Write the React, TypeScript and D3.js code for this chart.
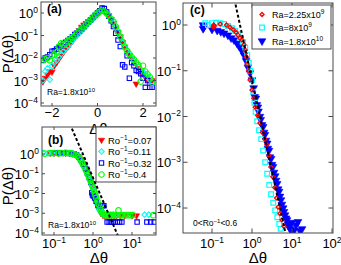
import React from 'react';
import * as d3 from 'd3';

// ---------- DATA ----------
// Panel (a): PDF of Δθ, Ra = 1.8x10^10, four rotation rates
const aDeltaTheta = [-2.4,-2.3,-2.2,-2.1,-2.0,-1.9,-1.8,-1.7,-1.6,-1.5,-1.4,-1.3,-1.2,-1.1,-1.0,-0.9,-0.8,-0.7,-0.6,-0.5,-0.4,-0.3,-0.2,-0.1,0,0.1,0.2,0.3,0.4,0.5,0.6,0.7,0.8,0.9,1.0,1.1,1.2,1.3,1.4,1.5,1.6,1.7,1.8,1.9,2.0,2.1,2.2,2.3,2.4];
const aRo007 = [8.9e-4,1.3e-3,1.8e-3,2.5e-3,2.4e-3,4.5e-3,6.3e-3,8.9e-3,0.0126,0.018,0.024,0.032,0.042,0.056,0.089,0.126,0.17,0.24,0.30,0.35,0.42,0.5,0.63,0.76,0.93,1.2,1.3,1.2,0.95,0.76,0.54,0.35,0.22,0.14,0.089,0.05,0.030,0.019,0.013,9.5e-3,6.3e-3,7.1e-4,3.5e-3,2.5e-3,2.0e-3,1.4e-3,1.0e-3,1.1e-3,1.0e-3];
const aRo011 = [1.0e-3,2.5e-3,3.5e-3,1.1e-3,4.5e-3,6.3e-3,7.9e-3,0.011,0.015,0.020,0.026,0.035,0.045,0.060,0.079,0.10,0.126,0.16,0.21,0.26,0.34,0.43,0.55,0.71,0.89,1.12,1.3,1.2,0.93,0.72,0.52,0.35,0.22,0.13,0.079,0.048,0.028,0.019,0.014,0.010,7.6e-3,5.6e-3,4.2e-3,3.2e-3,2.4e-3,1.8e-3,1.4e-3,1.1e-3,8.9e-4];
const aRo032 = [7.9e-3,0.010,0.011,0.014,0.020,0.021,0.025,0.030,0.035,0.042,0.050,0.060,0.072,0.089,0.11,0.13,0.16,0.20,0.25,0.32,0.40,0.50,0.63,0.79,1.0,1.26,1.66,1.58,1.12,0.71,0.45,0.25,0.126,0.063,0.032,5.0e-3,4.0e-3,0.0126,1.26e-3,6.3e-3,4.5e-3,2.8e-3,2.5e-3,2.0e-3,1.26e-3,5.0e-4,1.0e-3,5.0e-4,5.0e-4];
const aRo04 = [7.9e-3,8.9e-3,0.010,7.9e-3,0.0126,0.014,0.018,0.032,0.045,0.040,0.045,0.056,0.068,0.083,0.10,0.126,0.16,0.20,0.25,0.32,0.40,0.50,0.63,0.79,0.95,1.17,1.26,1.17,0.95,0.76,0.52,0.42,0.25,0.15,0.089,0.052,0.032,0.021,0.015,0.011,8.5e-3,6.3e-3,4.8e-3,8.9e-4,4.5e-3,2.5e-3,1.9e-3,1.4e-3,7.9e-4];

// Panel (b): [Δθ, P] pairs on log-log axes
const bRo007: [number, number][] = [[0.08,1.1],[0.1,1.12],[0.13,1.1],[0.17,1.15],[0.2,1.1],[0.25,1.08],[0.3,1.02],[0.35,0.92],[0.4,0.76],[0.45,0.58],[0.5,0.42],[0.55,0.3],[0.6,0.21],[0.65,0.15],[0.7,0.11],[0.75,0.08],[0.8,0.057],[0.85,0.042],[0.9,0.031],[0.95,0.024],[1.0,0.018],[1.1,7e-3],[1.2,4e-3],[1.3,2.5e-3],[1.4,1.7e-3],[1.5,1.3e-3],[1.6,1.0e-3],[1.8,8e-4],[2.0,7.6e-4],[2.3,7.6e-4],[2.6,7.6e-4],[3.0,7.6e-4],[3.5,7.6e-4],[4.0,7.6e-4],[5.0,7.6e-4],[6.5,7.6e-4],[10,7.6e-4],[13,7.6e-4]];
const bRo011: [number, number][] = [[0.052,1.15],[0.07,1.1],[0.09,1.12],[0.12,1.15],[0.15,1.1],[0.19,1.15],[0.22,1.1],[0.26,1.07],[0.3,1.02],[0.34,0.95],[0.38,0.82],[0.42,0.68],[0.46,0.53],[0.5,0.41],[0.55,0.3],[0.6,0.22],[0.65,0.16],[0.7,0.115],[0.75,0.085],[0.8,0.062],[0.85,0.045],[0.9,0.034],[0.95,0.025],[1.0,0.019],[1.05,0.013],[1.1,8.5e-3],[1.2,4.8e-3],[1.3,2.9e-3],[1.4,1.9e-3],[1.5,1.4e-3],[1.7,1.0e-3],[1.9,8.5e-4],[2.1,8.5e-4],[2.4,8.5e-4],[2.8,8.5e-4],[3.3,8.5e-4],[4,8.5e-4],[21,8.5e-4],[27,8.5e-4]];
const bRo032: [number, number][] = [[0.1,1.12],[0.14,1.15],[0.18,1.1],[0.23,1.1],[0.28,1.07],[0.33,1.0],[0.38,0.88],[0.43,0.7],[0.5,0.48],[0.57,0.3],[0.65,0.18],[0.72,0.11],[0.8,0.065],[0.88,0.036],[0.93,0.011],[0.97,8.5e-3],[1.02,7.5e-3],[1.1,6e-3],[1.2,4e-3],[1.35,2.5e-3],[1.5,2.5e-3],[1.7,2.4e-3],[1.9,2.4e-3],[2.3,3.6e-4],[2.6,3.6e-4],[2.9,3.6e-4],[3.3,3.6e-4],[3.7,3.6e-4],[4.2,3.6e-4],[4.8,3.6e-4],[5.5,3.6e-4],[13.5,3.6e-4],[24,3.6e-4],[30,3.6e-4],[37,3.6e-4]];
const bRo04: [number, number][] = [[0.058,1.05],[0.08,1.1],[0.1,1.12],[0.13,1.08],[0.16,1.12],[0.2,1.15],[0.24,1.12],[0.28,1.08],[0.32,1.0],[0.36,0.92],[0.4,0.8],[0.44,0.65],[0.48,0.5],[0.52,0.38],[0.56,0.29],[0.6,0.22],[0.65,0.16],[0.7,0.115],[0.75,0.085],[0.8,0.063],[0.85,0.047],[0.9,0.035],[0.95,0.026],[1.0,0.02],[1.05,0.015],[1.1,0.011],[1.15,8e-3],[1.2,6e-3],[1.3,4e-3],[1.4,2.7e-3],[1.5,1.9e-3],[1.6,1.4e-3],[1.7,1.1e-3],[1.8,9e-4],[2.0,8e-4],[2.2,8e-4],[2.4,8e-4],[2.6,8e-4],[2.8,8e-4],[3.0,8e-4],[3.3,8e-4],[3.6,8e-4],[4.0,8e-4],[4.5,1.4e-3],[5.0,8e-4],[5.5,8e-4],[6.0,8e-4],[7,8e-4],[8,8e-4],[9,8e-4],[10.5,8e-4],[35,8e-4]];
const bFit = { amp: 0.063, exponent: -4.6, xFrom: 0.2, xTo: 6 };

// Panel (c): three Rayleigh numbers, 0 < Ro^-1 < 0.6
const cRa225e9: [number, number][] = [[0.107,0.91],[0.11,1.0],[0.115,0.95],[0.16,1.05],[0.23,1.0],[0.28,0.89],[0.34,0.79],[0.4,0.69],[0.45,0.6],[0.5,0.52],[0.56,0.47],[0.63,0.37],[0.68,0.28],[0.72,0.2],[0.76,0.14],[0.83,0.1],[0.89,0.063],[1.0,0.038],[1.1,0.025],[1.2,0.016],[1.38,0.0105],[1.58,7.2e-3],[1.82,4.5e-3],[2.1,3.2e-3],[2.34,2.4e-3],[2.63,1.4e-3],[2.95,7.9e-4],[3.3,4.8e-4],[3.7,2.8e-4],[4.1,1.66e-4],[4.5,1.05e-4],[5.0,7.6e-5],[5.6,5.5e-5],[6.3,4.0e-5]];
const cRa8e9: [number, number][] = [[0.068,1.1],[0.079,1.0],[0.1,1.1],[0.126,1.12],[0.158,1.1],[0.2,1.05],[0.25,0.95],[0.32,0.85],[0.38,0.74],[0.45,0.63],[0.52,0.52],[0.6,0.42],[0.68,0.32],[0.76,0.22],[0.83,0.15],[0.91,0.1],[1.0,0.063],[1.07,0.035],[1.15,0.02],[1.23,0.0126],[1.35,7.9e-3],[1.5,5e-3],[1.7,3.2e-3],[1.9,1.8e-3],[2.14,1e-3],[2.4,5.6e-4],[2.7,3.2e-4],[3.0,2.0e-4],[3.4,1.3e-4],[3.8,8.9e-5],[4.3,6.3e-5],[4.8,4.5e-5],[5.2,3.5e-5]];
const cRa18e10: [number, number][] = [[0.06,1.0],[0.06,0.83],[0.063,0.91],[0.1,0.8],[0.135,0.76],[0.166,0.71],[0.2,0.66],[0.25,0.6],[0.3,0.52],[0.355,0.47],[0.42,0.4],[0.48,0.34],[0.55,0.28],[0.63,0.22],[0.71,0.166],[0.79,0.12],[0.89,0.089],[1.0,0.063],[1.1,0.042],[1.17,0.027],[1.25,0.025],[1.32,0.018],[1.4,0.016],[1.45,0.013],[1.58,0.01],[1.65,8.5e-3],[1.78,6.6e-3],[1.9,6e-3],[2.0,4.5e-3],[2.1,4e-3],[2.24,3.0e-3],[2.4,2.6e-3],[2.5,2.0e-3],[2.65,1.8e-3],[2.8,1.3e-3],[3.0,1.2e-3],[3.16,8.9e-4],[3.35,8e-4],[3.55,6.0e-4],[3.8,5e-4],[4.0,4.0e-4],[4.25,3.4e-4],[4.5,2.6e-4],[4.75,2.3e-4],[5.0,1.8e-4],[5.3,1.5e-4],[5.6,1.2e-4],[6.0,1.0e-4],[6.3,8.3e-5],[6.7,7e-5],[7.1,6.0e-5],[7.5,5.5e-5],[7.9,4.5e-5],[8.4,4e-5],[8.9,3.5e-5],[9.4,3.3e-5],[10,4.8e-5],[11.2,3.2e-5],[12.6,4.2e-5],[14.1,5.0e-5],[15.8,3.2e-5],[17.8,3.5e-5]];
const cFit = { amp: 0.063, exponent: -4.0, xFrom: 0.3, xTo: 10 };

// Axis ticks and labels
const aXTicks = [-2, 0, 2];
const yTickExps = [0, -1, -2, -3, -4];
const bXTickExps = [-1, 0, 1];
const cXTickExps = [-1, 0, 1, 2];
const bLegendLabels = ['0.07', '0.11', '0.32', '0.4'];
const cLegendLabels = [['Ra=2.25x10', '9'], ['Ra=8x10', '9'], ['Ra=1.8x10', '10']];

// ---------- STYLE ----------
const FONT = "'Liberation Sans', Arial, Helvetica, sans-serif";
const AX = '#4a4a4a';
const RED = '#ff0000', CYAN = '#00ffff', BLUE = '#0000ff', GREEN = '#00ff00';
const LABEL_FS = 15;
const TICK_FS = 13;
const SUP_FS = 8.5;

const triPath = (area: number) => d3.symbol().type(d3.symbolTriangle).size(area)() as string;
const sqPath = (area: number) => d3.symbol().type(d3.symbolSquare).size(area)() as string;
const circPath = (area: number) => d3.symbol().type(d3.symbolCircle).size(area)() as string;
const diaPath = (r: number) => `M0,${-r}L${r},0L0,${r}L${-r},0Z`;

type Mk = { d: string; fill: string; stroke: string; sw: number; rot?: number };

function Markers({ pts, x, y, mk }: { pts: [number, number][]; x: any; y: any; mk: Mk }) {
  return (
    <g>
      {pts.map((p, i) => (
        <path
          key={i}
          d={mk.d}
          transform={`translate(${x(p[0])},${y(p[1])})${mk.rot ? ` rotate(${mk.rot})` : ''}`}
          fill={mk.fill}
          stroke={mk.stroke}
          strokeWidth={mk.sw}
        />
      ))}
    </g>
  );
}

function Frame({ x, y, xt, yt, len }: { x: any; y: any; xt: number[]; yt: number[]; len: number }) {
  const [x0, x1] = x.range();
  const [yb, yt0] = y.range();
  return (
    <g stroke={AX} strokeWidth={1} fill="none">
      <rect x={x0} y={yt0} width={x1 - x0} height={yb - yt0} />
      {xt.map((t, i) => (
        <g key={'x' + i}>
          <line x1={x(t)} x2={x(t)} y1={yb} y2={yb - len} />
          <line x1={x(t)} x2={x(t)} y1={yt0} y2={yt0 + len} />
        </g>
      ))}
      {yt.map((t, i) => (
        <g key={'y' + i}>
          <line x1={x0} x2={x0 + len} y1={y(t)} y2={y(t)} />
          <line x1={x1} x2={x1 - len} y1={y(t)} y2={y(t)} />
        </g>
      ))}
    </g>
  );
}

const expStr = (e: number) => (e < 0 ? '\u2212' + -e : String(e));

function PowLabel({ x, y, e, anchor }: { x: number; y: number; e: number; anchor: string }) {
  return (
    <text x={x} y={y} textAnchor={anchor} fontSize={TICK_FS} fill="#000">
      10<tspan dy={-5.5} fontSize={SUP_FS}>{expStr(e)}</tspan>
    </text>
  );
}

export default function App() {
  // scales
  const ax = d3.scaleLinear().domain([-2.484, 2.571]).range([41, 156]);
  const ay = d3.scaleLog().domain([10 ** -4.133, 10 ** 0.489]).range([106, 2]);
  const bx = d3.scaleLog().domain([10 ** -1.308, 10 ** 1.615]).range([42, 156]);
  const by = d3.scaleLog().domain([10 ** -4.1, 10 ** 1.367]).range([235, 127]);
  const cx = d3.scaleLog().domain([10 ** -1.725, 10 ** 2.025]).range([183, 333]);
  const cy = d3.scaleLog().domain([10 ** -4.546, 10 ** 0.481]).range([233, 3]);

  const mTri: Mk = { d: triPath(17), fill: RED, stroke: RED, sw: 0.6, rot: 180 };
  const mDia: Mk = { d: diaPath(2.8), fill: 'none', stroke: CYAN, sw: 1.1 };
  const mSq: Mk = { d: sqPath(19), fill: 'none', stroke: BLUE, sw: 1.1 };
  const mCirc: Mk = { d: circPath(24), fill: 'none', stroke: GREEN, sw: 1.1 };

  const cmRed: Mk = { d: diaPath(2.0), fill: 'none', stroke: RED, sw: 1.3 };
  const cmCyan: Mk = { d: sqPath(22), fill: 'none', stroke: CYAN, sw: 1.2 };
  const cmBlue: Mk = { d: triPath(26), fill: BLUE, stroke: BLUE, sw: 0.6, rot: 180 };

  const aPts = (vals: number[]) => d3.zip(aDeltaTheta, vals) as [number, number][];

  const fitLine = (f: typeof bFit, xs: any, ys: any) => {
    const pts: [number, number][] = [f.xFrom, f.xTo].map((v) => [v, f.amp * Math.pow(v, f.exponent)]);
    return d3.line<[number, number]>().x((d) => xs(d[0])).y((d) => ys(d[1]))(pts) as string;
  };

  const [ax0, ax1] = ax.range();
  const [ayb, ayt] = ay.range();
  const [bx0, bx1] = bx.range();
  const [byb, byt] = by.range();
  const [cx0, cx1] = cx.range();
  const [cyb, cyt] = cy.range();

  return (
    <svg
      width={341}
      height={265}
      style={{ position: 'absolute', left: 0, top: 0, background: '#fff' }}
      fontFamily={FONT}
    >
      <defs>
        <clipPath id="clipA"><rect x={ax0} y={ayt} width={ax1 - ax0} height={ayb - ayt} /></clipPath>
        <clipPath id="clipB"><rect x={bx0} y={byt} width={bx1 - bx0} height={byb - byt} /></clipPath>
        <clipPath id="clipC"><rect x={cx0} y={cyt} width={cx1 - cx0} height={cyb - cyt} /></clipPath>
      </defs>
      <rect x={0} y={0} width={341} height={265} fill="#fff" />

      {/* ---------- Panel (a) ---------- */}
      <g clipPath="url(#clipA)">
        <Markers pts={aPts(aRo007)} x={ax} y={ay} mk={mTri} />
        <Markers pts={aPts(aRo011)} x={ax} y={ay} mk={mDia} />
        <Markers pts={aPts(aRo032)} x={ax} y={ay} mk={mSq} />
        <Markers pts={aPts(aRo04)} x={ax} y={ay} mk={mCirc} />
      </g>
      <Frame x={ax} y={ay} xt={aXTicks} yt={yTickExps.map((e) => 10 ** e)} len={3} />
      {aXTicks.map((t) => (
        <text key={t} x={ax(t)} y={ayb + 11} textAnchor="middle" fontSize={TICK_FS}>
          {t < 0 ? '\u2212' + -t : t}
        </text>
      ))}
      {yTickExps.map((e) => (
        <PowLabel key={e} x={ax0 - 3} y={ay(10 ** e) + 5} e={e} anchor="end" />
      ))}
      <text x={47} y={13} fontSize={12} fontWeight="bold">(a)</text>
      <text x={47} y={95} fontSize={8.5}>
        Ra=1.8x10<tspan dy={-3.5} fontSize={6}>10</tspan>
      </text>
      <text x={(ax0 + ax1) / 2} y={134} textAnchor="middle" fontSize={LABEL_FS}>Δθ</text>
      <text transform={`translate(13,${(ayb + ayt) / 2}) rotate(-90)`} textAnchor="middle" fontSize={LABEL_FS}>
        P(Δθ)
      </text>

      {/* ---------- Panel (b) ---------- */}
      <g clipPath="url(#clipB)">
        <Markers pts={bRo007} x={bx} y={by} mk={mTri} />
        <Markers pts={bRo011} x={bx} y={by} mk={mDia} />
        <Markers pts={bRo032} x={bx} y={by} mk={mSq} />
        <Markers pts={bRo04} x={bx} y={by} mk={mCirc} />
        <path d={fitLine(bFit, bx, by)} stroke="#000" strokeWidth={2} strokeDasharray="3,2.2" fill="none" />
      </g>
      <Frame x={bx} y={by} xt={bXTickExps.map((e) => 10 ** e)} yt={yTickExps.map((e) => 10 ** e)} len={3} />
      {bXTickExps.map((e) => (
        <PowLabel key={e} x={bx(10 ** e)} y={byb + 13} e={e} anchor="middle" />
      ))}
      {yTickExps.map((e) => (
        <PowLabel key={e} x={bx0 - 3} y={by(10 ** e) + 5} e={e} anchor="end" />
      ))}
      <text x={48} y={144} fontSize={12} fontWeight="bold">(b)</text>
      <text x={48} y={228} fontSize={8.5}>
        Ra=1.8x10<tspan dy={-3.5} fontSize={6}>10</tspan>
      </text>
      <text x={(bx0 + bx1) / 2} y={263} textAnchor="middle" fontSize={LABEL_FS}>Δθ</text>
      <text transform={`translate(13,186) rotate(-90)`} textAnchor="middle" fontSize={LABEL_FS}>
        P(Δθ)
      </text>
      {/* legend (b) */}
      <g>
        <rect x={96} y={byt} width={bx1 - 96} height={55} fill="#fff" stroke={AX} strokeWidth={1} />
        {[mTri, mDia, mSq, mCirc].map((mk, i) => {
          const yy = 140 + i * 11.5;
          return (
            <g key={i}>
              <path
                d={mk.d}
                transform={`translate(101.5,${yy})${mk.rot ? ` rotate(${mk.rot})` : ''}`}
                fill={mk.fill}
                stroke={mk.stroke}
                strokeWidth={mk.sw}
              />
              <text x={108} y={yy + 3.5} fontSize={9.5}>
                Ro<tspan dy={-4} fontSize={6.5}>{'\u22121'}</tspan>
                <tspan dy={4}>={bLegendLabels[i]}</tspan>
              </text>
            </g>
          );
        })}
      </g>

      {/* ---------- Panel (c) ---------- */}
      <g clipPath="url(#clipC)">
        <Markers pts={cRa18e10} x={cx} y={cy} mk={cmBlue} />
        <Markers pts={cRa8e9} x={cx} y={cy} mk={cmCyan} />
        <Markers pts={cRa225e9} x={cx} y={cy} mk={cmRed} />
        <path d={fitLine(cFit, cx, cy)} stroke="#000" strokeWidth={2} strokeDasharray="3,2.2" fill="none" />
      </g>
      <Frame x={cx} y={cy} xt={cXTickExps.map((e) => 10 ** e)} yt={yTickExps.map((e) => 10 ** e)} len={4.5} />
      {cXTickExps.map((e) => (
        <PowLabel key={e} x={cx(10 ** e)} y={cyb + 15} e={e} anchor="middle" />
      ))}
      {yTickExps.map((e) => (
        <PowLabel key={e} x={cx0 - 2} y={cy(10 ** e) + 5} e={e} anchor="end" />
      ))}
      <text x={190} y={14} fontSize={12} fontWeight="bold">(c)</text>
      <text x={193} y={226} fontSize={8.5}>
        0&lt;Ro<tspan dy={-3.5} fontSize={6}>{'\u22121'}</tspan>
        <tspan dy={3.5}>&lt;0.6</tspan>
      </text>
      <text x={(cx0 + cx1) / 2} y={263} textAnchor="middle" fontSize={LABEL_FS}>Δθ</text>
      {/* legend (c) */}
      <g>
        <rect x={252} y={5} width={79} height={44} fill="#fff" stroke={AX} strokeWidth={1} />
        {[cmRed, cmCyan, cmBlue].map((mk, i) => {
          const yy = [14.5, 27.5, 41][i];
          return (
            <g key={i}>
              <path
                d={mk.d}
                transform={`translate(262,${yy})${mk.rot ? ` rotate(${mk.rot})` : ''}`}
                fill={mk.fill}
                stroke={mk.stroke}
                strokeWidth={mk.sw}
              />
              <text x={272} y={yy + 3.5} fontSize={9}>
                {cLegendLabels[i][0]}
                <tspan dy={-4} fontSize={6.5}>{cLegendLabels[i][1]}</tspan>
              </text>
            </g>
          );
        })}
      </g>
    </svg>
  );
}
